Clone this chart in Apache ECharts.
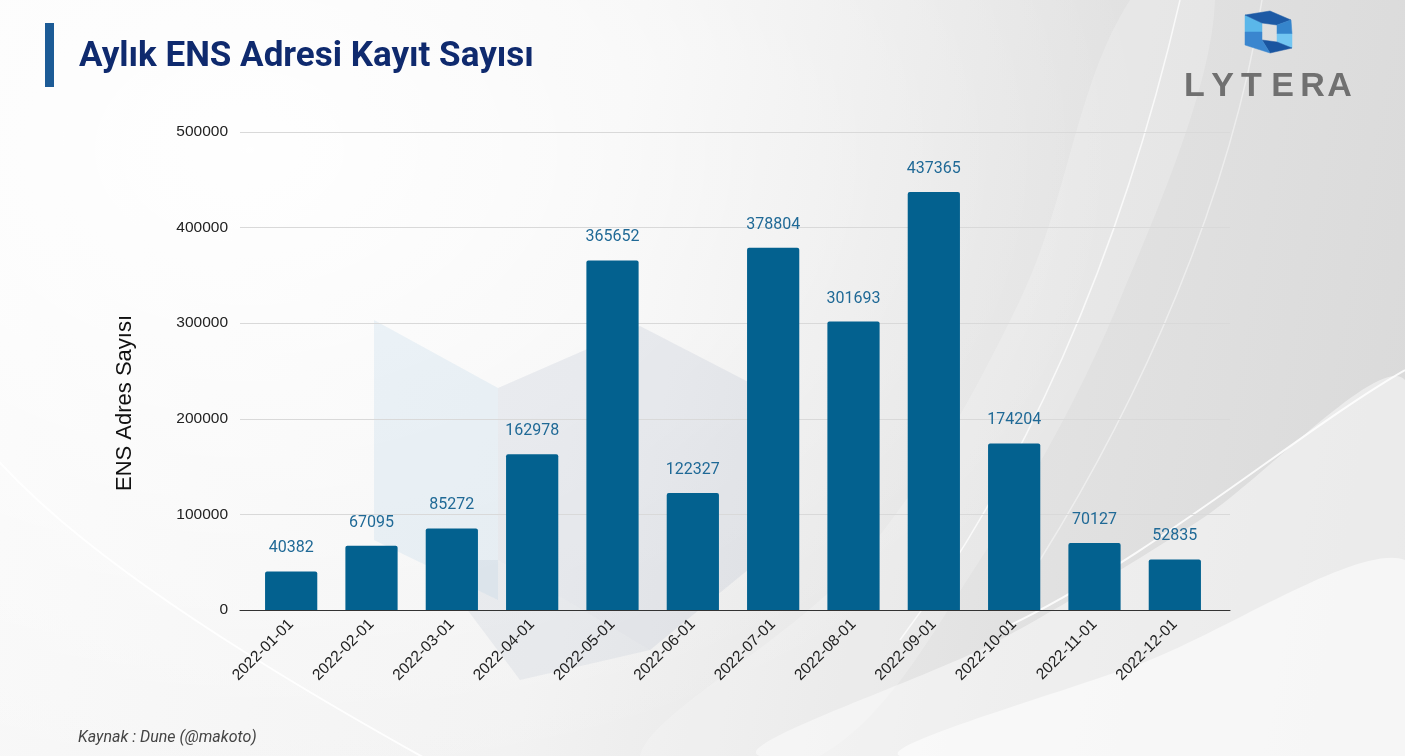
<!DOCTYPE html>
<html>
<head>
<meta charset="utf-8">
<script src="https://cdn.jsdelivr.net/npm/echarts@6/dist/echarts.min.js"></script>
<style>
html,body{margin:0;padding:0;background:#eee;}
#c{width:1405px;height:756px;
background:
 radial-gradient(ellipse 900px 650px at 250px 150px, rgba(255,255,255,0.95) 0%, rgba(255,255,255,0) 100%),
 linear-gradient(100deg,#f9f9f9 0%,#f2f2f2 42%,#e2e2e2 72%,#d9d9d9 100%);}
</style>
</head>
<body>
<div id="c"></div>
<script>
// ---- data ----
const categories = ['2022-01-01','2022-02-01','2022-03-01','2022-04-01','2022-05-01','2022-06-01',
                    '2022-07-01','2022-08-01','2022-09-01','2022-10-01','2022-11-01','2022-12-01'];
const registrations = [40382, 67095, 85272, 162978, 365652, 122327, 378804, 301693, 437365, 174204, 70127, 52835];
const yMin = 0, yMax = 500000, yStep = 100000;
const titleText = 'Aylık ENS Adresi Kayıt Sayısı';
const yAxisTitle = 'ENS Adres Sayısı';
const sourceText = 'Kaynak : Dune (@makoto)';
const brandLetters = ['L','Y','T','E','R','A'];

// ---- chart ----
const chart = echarts.init(document.getElementById('c'), null, {renderer:'canvas'});

const bg = [];
// decorative background sweeps
bg.push({type:'polygon', z:-102, shape:{smooth:0.35, points:[[1130,0],[1215,0],[1120,300],[980,560],[820,756],[640,756],[860,560],[1020,300]]},
  style:{fill:'rgba(255,255,255,0.2)'}});
bg.push({type:'bezierCurve', z:-100, shape:{x1:1180,y1:0,x2:900,y2:640,cpx1:1120,cpy1:260,cpx2:1020,cpy2:480},
  style:{stroke:'rgba(255,255,255,0.75)',lineWidth:1.5,fill:null}});
bg.push({type:'bezierCurve', z:-100, shape:{x1:1262,y1:0,x2:1040,y2:560,cpx1:1230,cpy1:200,cpx2:1140,cpy2:400},
  style:{stroke:'rgba(255,255,255,0.45)',lineWidth:1.5,fill:null}});
bg.push({type:'bezierCurve', z:-100, shape:{x1:-20,y1:440,x2:1100,y2:1100,cpx1:80,cpy1:560,cpx2:300,cpy2:720},
  style:{stroke:'rgba(255,255,255,0.9)',lineWidth:2,fill:null}});
bg.push({type:'polygon', z:-101, shape:{smooth:0.3, points:[[760,756],[1000,640],[1200,520],[1405,380],[1405,756]]},
  style:{fill:'rgba(255,255,255,0.45)'}});
bg.push({type:'polygon', z:-101, shape:{smooth:0.3, points:[[900,756],[1150,660],[1405,560],[1405,756]]},
  style:{fill:'rgba(255,255,255,0.55)'}});
bg.push({type:'bezierCurve', z:-100, shape:{x1:1000,y1:630,x2:1405,y2:370,cpx1:1150,cpy1:560,cpx2:1300,cpy2:430},
  style:{stroke:'rgba(255,255,255,0.85)',lineWidth:2,fill:null}});
// faint watermark logo
bg.push({type:'polygon', z:-99, shape:{points:[[374,320],[498,388],[498,600],[374,540]]},
  style:{fill:'rgba(190,215,235,0.28)'}});
bg.push({type:'polygon', z:-99, shape:{points:[[498,388],[640,326],[760,388],[760,560],[650,650],[498,560]]},
  style:{fill:'rgba(170,180,200,0.2)'}});
bg.push({type:'polygon', z:-99, shape:{points:[[430,560],[498,560],[650,650],[520,680]]},
  style:{fill:'rgba(170,180,200,0.16)'}});

// title bar
bg.push({type:'rect', z:10, shape:{x:45,y:23,width:9,height:64}, style:{fill:'#1c5b96'}});
bg.push({type:'text', z:10, style:{x:79,y:57,text:titleText,font:'bold 35px Roboto',fill:'#0f2a6e',
  align:'left',verticalAlign:'middle'}});
// y-axis title
bg.push({type:'text', z:10, x:125, y:403, rotation:Math.PI/2,
  style:{x:0,y:0,text:yAxisTitle,font:'22px "Liberation Sans"',fill:'#111',align:'center',verticalAlign:'middle'}});
// source
bg.push({type:'text', z:10, style:{x:78,y:738,text:sourceText,font:'italic 16px Roboto',fill:'#444',
  align:'left',verticalAlign:'middle'}});

// logo icon
const logoParts = [
  {pts:[[1245,15],[1262,23],[1262,32],[1245,32]], c:'#5ab7ea'},
  {pts:[[1245,15],[1270,11],[1291,20],[1277,25],[1262,23]], c:'#1d5aa5'},
  {pts:[[1291,20],[1292,34],[1277,34],[1277,25]], c:'#3585cc'},
  {pts:[[1292,34],[1292,48],[1277,42],[1277,34]], c:'#72c6f2'},
  {pts:[[1292,48],[1270,53],[1262,40],[1277,42]], c:'#1a55a0'},
  {pts:[[1245,32],[1262,32],[1262,40],[1270,53],[1245,45]], c:'#3a86cf'}
];
logoParts.forEach(p=>bg.push({type:'polygon', z:10, shape:{points:p.pts}, style:{fill:p.c, stroke:p.c, lineWidth:0.5}}));
const letterX = [1194.5,1222.5,1251.5,1282.5,1312.5,1339.5];
brandLetters.forEach((ch,i)=>{
  bg.push({type:'text', z:10, style:{x:letterX[i],y:87,text:ch,font:'bold 34px "Liberation Sans"',fill:'#707070',
    align:'center',verticalAlign:'middle'}});
});

const option = {
  animation:false,
  graphic: bg,
  grid:[
    {left:251, right:190, top:132, bottom:146},
    {left:240, right:175, top:132, bottom:146}
  ],
  xAxis:[
    {type:'category', gridIndex:0, data:categories,
     axisLine:{show:false}, axisTick:{show:false},
     axisLabel:{rotate:45, margin:12, fontSize:15.5, fontFamily:'Liberation Sans', color:'#222'}},
    {type:'value', gridIndex:1, min:0, max:1,
     axisLine:{show:true, lineStyle:{color:'#333', width:1}}, axisTick:{show:false},
     axisLabel:{show:false}, splitLine:{show:false}}
  ],
  yAxis:[
    {type:'value', gridIndex:0, min:yMin, max:yMax, interval:yStep,
     axisLine:{show:false}, axisTick:{show:false}, axisLabel:{show:false}, splitLine:{show:false}},
    {type:'value', gridIndex:1, min:yMin, max:yMax, interval:yStep,
     axisLine:{show:false}, axisTick:{show:false},
     axisLabel:{margin:12, fontSize:15.5, fontFamily:'Liberation Sans', color:'#222', formatter:v=>String(v)},
     splitLine:{show:true, lineStyle:{color:'#d9d9d9', width:1}}}
  ],
  series:[{
    type:'bar', xAxisIndex:0, yAxisIndex:0, data:registrations,
    barCategoryGap:'35%',
    itemStyle:{color:'#03618f', borderRadius:[2,2,0,0]},
    label:{show:true, position:'top', distance:15, fontFamily:'Roboto', fontSize:16, color:'#1f6996'}
  }]
};
chart.setOption(option);
</script>
</body>
</html>
